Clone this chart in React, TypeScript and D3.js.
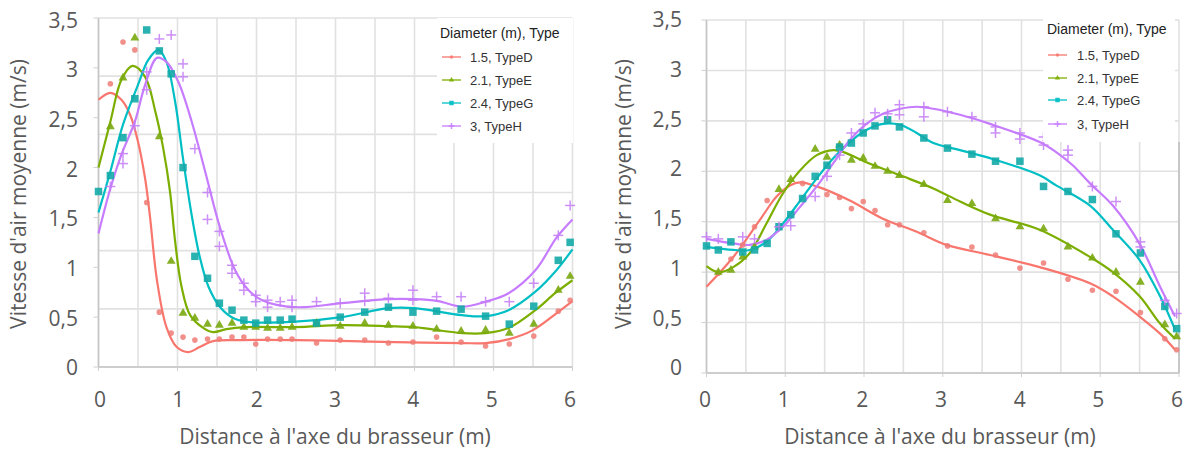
import React from "react";
import * as d3 from "d3";

// ---------- data ----------
const measuredX = [0, 0.15, 0.31, 0.46, 0.61, 0.77, 0.92, 1.07, 1.22, 1.38, 1.53, 1.69, 1.84, 1.99, 2.14, 2.30, 2.45, 2.76, 3.06, 3.37, 3.67, 3.98, 4.28, 4.59, 4.90, 5.20, 5.51, 5.82, 5.97];

// Left panel measured points
const leftD = [null, 2.84, 3.26, 3.18, 1.65, 0.55, 0.34, 0.30, 0.27, 0.28, 0.28, 0.30, 0.30, 0.23, 0.28, 0.28, 0.28, 0.24, 0.27, 0.27, 0.24, 0.25, 0.30, 0.25, 0.21, 0.23, 0.31, 0.56, 0.67];
const leftE = [null, 2.41, 2.90, 3.30, null, 2.31, 1.06, 0.54, 0.49, 0.43, 0.42, 0.44, 0.40, 0.40, 0.39, 0.39, 0.40, 0.44, 0.41, 0.44, 0.42, 0.41, 0.38, 0.36, 0.37, 0.34, 0.43, 0.77, 0.91];
const leftG = [1.76, 1.92, 2.30, 2.69, 3.38, 3.17, 2.94, 2.00, 1.11, 0.89, 0.64, 0.57, 0.47, 0.44, 0.47, 0.47, 0.48, 0.44, 0.50, 0.55, 0.60, 0.55, 0.56, 0.58, 0.51, 0.43, 0.61, 1.07, 1.25];
const leftH = [null, 1.81, 2.14, 2.42, 2.96, 3.29, 3.33, 3.04, 2.19, 1.75, 1.36, 1.02, 0.84, 0.72, 0.67, 0.655, 0.67, 0.655, 0.64, 0.74, 0.69, 0.77, 0.705, 0.705, 0.655, 0.655, 0.84, 1.32, 1.62];
const leftH2 = [null, null, 2.04, null, 2.78, null, null, 2.91, null, 1.48, 1.21, 0.94, 0.77, 0.655, 0.60, null, 0.60, null, null, 0.66, null, 0.67, null, null, null, null, null, null, null];

// Left panel fitted curves [x, v]
const leftFitD = [[0, 2.68], [0.15, 2.75], [0.29, 2.68], [0.40, 2.53], [0.50, 2.26], [0.59, 1.89], [0.65, 1.52], [0.74, 0.87], [0.86, 0.40], [0.99, 0.20], [1.14, 0.15], [1.28, 0.20], [1.45, 0.26], [1.8, 0.27], [2.5, 0.27], [3.2, 0.26], [3.75, 0.25], [4.6, 0.24], [4.9, 0.24], [5.2, 0.28], [5.5, 0.37], [5.8, 0.54], [6.0, 0.66]];
const leftFitE = [[0, 2.0], [0.15, 2.46], [0.29, 2.88], [0.43, 3.02], [0.59, 2.91], [0.72, 2.56], [0.82, 2.19], [0.905, 1.76], [0.97, 1.26], [1.05, 0.81], [1.16, 0.52], [1.33, 0.39], [1.45, 0.35], [1.62, 0.38], [1.85, 0.40], [2.5, 0.40], [3.08, 0.42], [3.67, 0.41], [4.0, 0.40], [4.6, 0.34], [4.9, 0.34], [5.19, 0.39], [5.53, 0.57], [5.78, 0.74], [6.0, 0.87]];
const leftFitG = [[0, 1.55], [0.15, 1.96], [0.31, 2.43], [0.50, 2.83], [0.63, 3.08], [0.76, 3.18], [0.86, 3.06], [0.97, 2.66], [1.07, 2.09], [1.18, 1.52], [1.28, 1.11], [1.39, 0.81], [1.54, 0.60], [1.71, 0.49], [1.92, 0.45], [2.49, 0.455], [3.08, 0.50], [3.67, 0.59], [4.0, 0.59], [4.6, 0.52], [4.9, 0.51], [5.19, 0.57], [5.53, 0.755], [5.78, 0.955], [6.0, 1.18]];
const leftFitH = [[0, 1.34], [0.15, 1.79], [0.29, 2.13], [0.46, 2.46], [0.59, 2.83], [0.74, 3.10], [0.86, 3.06], [1.01, 2.86], [1.18, 2.46], [1.35, 1.96], [1.53, 1.42], [1.73, 0.97], [1.90, 0.77], [2.07, 0.67], [2.49, 0.60], [3.08, 0.64], [3.67, 0.68], [4.0, 0.68], [4.3, 0.66], [4.6, 0.605], [4.9, 0.655], [5.19, 0.74], [5.53, 0.97], [5.8, 1.30], [6.0, 1.48]];

// Right panel measured points
const rightD = [null, 0.99, 1.13, 1.27, 1.45, 1.71, null, null, 1.88, null, 1.77, 1.74, 1.63, 1.70, 1.61, 1.47, 1.47, 1.39, 1.26, 1.25, 1.17, 1.04, 1.09, 0.93, 0.82, 0.81, 0.60, 0.34, 0.23];
const rightE = [null, 1.00, 1.02, 1.15, 1.25, null, 1.82, 1.92, null, 2.22, 2.14, 2.26, 2.11, 2.13, 2.05, 2.00, 1.96, 1.87, 1.71, 1.68, 1.53, 1.45, 1.43, 1.25, 1.14, 1.00, 0.90, 0.48, 0.36];
const rightG = [1.26, 1.22, 1.30, 1.20, 1.22, 1.285, 1.45, 1.57, 1.73, 1.95, 2.06, 2.24, 2.28, 2.38, 2.45, 2.51, 2.44, 2.33, 2.23, 2.17, 2.10, 2.10, 1.85, 1.80, 1.72, 1.38, 1.19, 0.66, 0.44];
const rightH = [1.35, 1.33, null, 1.35, 1.33, null, 1.45, 1.46, null, 1.75, 1.95, 2.16, 2.38, 2.47, 2.58, 2.57, 2.66, 2.64, 2.59, 2.54, 2.44, 2.38, 2.34, 2.21, 1.85, 1.70, 1.30, 0.72, 0.59];
const rightH2 = [null, null, null, null, null, null, null, null, null, null, null, null, null, null, null, null, 2.56, 2.54, null, null, 2.38, 2.32, 2.26, 2.16, null, null, 1.25, null, null];

// Right panel fitted curves
const rightFitD = [[0, 0.855], [0.34, 1.15], [0.68, 1.52], [0.89, 1.75], [1.06, 1.86], [1.19, 1.89], [1.40, 1.85], [1.82, 1.71], [2.24, 1.53], [2.67, 1.40], [3.05, 1.27], [3.6, 1.17], [4.23, 1.05], [4.87, 0.89], [5.16, 0.76], [5.5, 0.56], [5.76, 0.39], [5.95, 0.23]];
const rightFitE = [[0, 1.06], [0.15, 1.0], [0.34, 1.05], [0.55, 1.19], [0.76, 1.48], [0.97, 1.78], [1.19, 2.01], [1.40, 2.16], [1.61, 2.21], [1.74, 2.19], [2.03, 2.09], [2.46, 1.96], [2.88, 1.83], [3.22, 1.70], [3.6, 1.57], [4.23, 1.42], [4.87, 1.15], [5.16, 1.0], [5.5, 0.76], [5.76, 0.49], [5.95, 0.34]];
const rightFitG = [[0, 1.25], [0.34, 1.22], [0.55, 1.22], [0.76, 1.30], [0.97, 1.48], [1.19, 1.71], [1.40, 1.93], [1.61, 2.13], [1.82, 2.29], [2.03, 2.41], [2.24, 2.47], [2.46, 2.46], [2.67, 2.38], [2.88, 2.28], [3.22, 2.21], [3.6, 2.13], [4.23, 1.96], [4.44, 1.86], [4.87, 1.66], [5.16, 1.42], [5.5, 1.12], [5.76, 0.76], [5.95, 0.43]];
const rightFitH = [[0, 1.33], [0.34, 1.285], [0.55, 1.27], [0.76, 1.32], [0.97, 1.45], [1.19, 1.65], [1.40, 1.85], [1.61, 2.08], [1.82, 2.31], [2.03, 2.47], [2.24, 2.57], [2.46, 2.62], [2.67, 2.64], [2.88, 2.62], [3.22, 2.56], [3.6, 2.47], [4.23, 2.29], [4.44, 2.19], [4.65, 2.06], [4.87, 1.88], [5.16, 1.66], [5.5, 1.28], [5.76, 0.855], [5.95, 0.56]];

const seriesNames = ["1.5, TypeD", "2.1, TypeE", "2.4, TypeG", "3, TypeH"];
const xTicks = [0, 1, 2, 3, 4, 5, 6];
const yTicks = [0, 0.5, 1, 1.5, 2, 2.5, 3, 3.5];
const legendTitle = "Diameter (m), Type";
const xTitle = "Distance à l'axe du brasseur (m)";
const yTitle = "Vitesse d'air moyenne (m/s)";

// ---------- styles ----------
const lineColors = ["#f8766d", "#7cae00", "#00bfc4", "#c77cff"];
const markColors = ["#ef7b76", "#79a80f", "#13aaa9", "#c47cf6"];
const shapes = ["circle", "triangle", "square", "plus"];
const fmt = (v: number) => String(v).replace(".", ",");

type Panel = {
  xr: [number, number];
  yr: [number, number];
  ylab: [number, number];
  xlab: [number, number];
  hgrid: number;
  pts: (number | null)[][];
  pts2: (number | null)[][];
  fits: number[][][];
  legend: { x0: number; x1: number; y0: number; y1: number; tx: number; ty: number; lx: number; items: number[]; textX: number };
  yLabelRight: number;
  yTitleX: number;
  xTitleX: number;
  rightBorder: boolean;
};

const panels: Panel[] = [
  {
    xr: [98.5, 572.5], yr: [367, 18], ylab: [368, 20.5], xlab: [100, 570], hgrid: 6,
    pts: [leftD, leftE, leftG, leftH], pts2: [[], [], [], leftH2],
    fits: [leftFitD, leftFitE, leftFitG, leftFitH],
    legend: { x0: 437, x1: 573, y0: 18, y1: 143, tx: 440, ty: 33, lx: 442, items: [57, 80, 103, 126], textX: 470 },
    yLabelRight: 78, yTitleX: 26, xTitleX: 335, rightBorder: false,
  },
  {
    xr: [706.5, 1179], yr: [373, 20], ylab: [368, 20], xlab: [705, 1177], hgrid: 7,
    pts: [rightD, rightE, rightG, rightH], pts2: [[], [], [], rightH2],
    fits: [rightFitD, rightFitE, rightFitG, rightFitH],
    legend: { x0: 1043, x1: 1175, y0: 18, y1: 142, tx: 1047, ty: 29, lx: 1048, items: [55, 78, 100, 124], textX: 1077 },
    yLabelRight: 682, yTitleX: 631, xTitleX: 940, rightBorder: true,
  },
];

function Marker({ shape, x, y, color, small }: { shape: string; x: number; y: number; color: string; small?: boolean }) {
  const k = small ? 0.6 : 1;
  if (shape === "circle") return <circle cx={x} cy={y} r={2.8 * k} fill={color} opacity={0.85} />;
  if (shape === "triangle") {
    const p = d3.symbol(d3.symbolTriangle, 34 * k * k)();
    return <path d={p || ""} transform={`translate(${x},${y})`} fill={color} opacity={0.9} />;
  }
  if (shape === "square") {
    const s = 7.5 * k;
    return <rect x={x - s / 2} y={y - s / 2} width={s} height={s} fill={color} opacity={0.9} />;
  }
  const h = 5 * k;
  return (
    <g stroke={color} strokeWidth={1.5} opacity={0.85}>
      <line x1={x - h} x2={x + h} y1={y} y2={y} />
      <line x1={x} x2={x} y1={y - h} y2={y + h} />
    </g>
  );
}

function PanelView({ p }: { p: Panel }) {
  const x = d3.scaleLinear().domain([0, 6]).range(p.xr);
  const y = d3.scaleLinear().domain([0, 3.5]).range(p.yr);
  const yl = d3.scaleLinear().domain([0, 3.5]).range(p.ylab);
  const xl = d3.scaleLinear().domain([0, 6]).range(p.xlab);
  const gridV = d3.range(0, 6.01, 0.5);
  const gridH = d3.range(p.hgrid + 1).map((i) => (i * 3.5) / p.hgrid);
  const line = d3
    .line<number[]>()
    .x((d) => x(d[0]))
    .y((d) => y(d[1]))
    .curve(d3.curveCatmullRom.alpha(0.5));
  const L = p.legend;
  const tickFont = { fontFamily: "'Open Sans', sans-serif", fontSize: 21, fill: "#595959" };
  return (
    <g>
      <rect x={p.xr[0]} y={p.yr[1]} width={p.xr[1] - p.xr[0]} height={p.yr[0] - p.yr[1]} fill="#ffffff" />
      {gridV.map((g) => (
        <line key={"v" + g} x1={x(g)} x2={x(g)} y1={p.yr[1]} y2={p.yr[0]} stroke="#e1e1e1" strokeWidth={1.6} />
      ))}
      {gridH.map((g) => (
        <line key={"h" + g} x1={p.xr[0]} x2={p.xr[1]} y1={y(g)} y2={y(g)} stroke="#e1e1e1" strokeWidth={1.6} />
      ))}
      <line x1={p.xr[0]} x2={p.xr[0]} y1={p.yr[1]} y2={p.yr[0]} stroke="#c4c4c4" strokeWidth={1.5} />
      <line x1={p.xr[0]} x2={p.xr[1]} y1={p.yr[0]} y2={p.yr[0]} stroke="#c4c4c4" strokeWidth={1.5} />
      {p.rightBorder && (
        <line x1={p.xr[1]} x2={p.xr[1]} y1={L.y1} y2={p.yr[0]} stroke="#bdbdbd" strokeWidth={1.5} />
      )}
      {yTicks.map((t) => (
        <line key={"yt" + t} x1={p.xr[0] - 5} x2={p.xr[0]} y1={y(t)} y2={y(t)} stroke="#d0d0d0" strokeWidth={1} />
      ))}
      {xTicks.map((t) => (
        <line key={"xt" + t} x1={x(t)} x2={x(t)} y1={p.yr[0]} y2={p.yr[0] + 4} stroke="#d0d0d0" strokeWidth={1} />
      ))}
      {/* fitted curves */}
      {p.fits.map((f, i) => (
        <path key={"f" + i} d={line(f) || ""} fill="none" stroke={lineColors[i]} strokeWidth={2.2} />
      ))}
      {/* measured points */}
      {p.pts.map((arr, i) =>
        arr.map((v, j) =>
          v == null ? null : <Marker key={`m${i}-${j}`} shape={shapes[i]} x={x(measuredX[j])} y={y(v)} color={markColors[i]} />
        )
      )}
      {p.pts2.map((arr, i) =>
        arr.map((v, j) =>
          v == null ? null : <Marker key={`n${i}-${j}`} shape={shapes[i]} x={x(measuredX[j])} y={y(v)} color={markColors[i]} />
        )
      )}
      {/* legend */}
      <rect x={L.x0} y={L.y0} width={L.x1 - L.x0} height={L.y1 - L.y0} fill="#ffffff" />
      <text x={L.tx} y={L.ty + 5} fontFamily="'Liberation Sans', Arial, sans-serif" fontSize={14} fill="#222">
        {legendTitle}
      </text>
      {seriesNames.map((s, i) => (
        <g key={"lg" + i}>
          <line x1={L.lx} x2={L.lx + 19} y1={L.items[i]} y2={L.items[i]} stroke={lineColors[i]} strokeWidth={1.3} />
          <Marker shape={shapes[i]} x={L.lx + 9.5} y={L.items[i]} color={lineColors[i]} small />
          <text x={L.textX} y={L.items[i] + 4.6} fontFamily="'Liberation Sans', Arial, sans-serif" fontSize={13} fill="#333">
            {s}
          </text>
        </g>
      ))}
      {/* axis labels */}
      {yTicks.map((t) => (
        <text key={"yl" + t} x={p.yLabelRight} y={yl(t)} dy="0.35em" textAnchor="end" {...tickFont}>
          {fmt(t)}
        </text>
      ))}
      {xTicks.map((t) => (
        <text key={"xl" + t} x={xl(t)} y={400} dy="0.35em" textAnchor="middle" {...tickFont}>
          {fmt(t)}
        </text>
      ))}
      <text x={p.xTitleX} y={437} dy="0.35em" textAnchor="middle" {...tickFont}>
        {xTitle}
      </text>
      <text
        transform={`translate(${p.yTitleX},194) rotate(-90)`}
        textAnchor="middle"
        {...tickFont}
      >
        {yTitle}
      </text>
    </g>
  );
}

export default function App() {
  return (
    <svg
      width={1184}
      height={453}
      viewBox="0 0 1184 453"
      style={{ position: "absolute", left: 0, top: 0, background: "#ffffff" }}
    >
      <rect width={1184} height={453} fill="#ffffff" />
      {panels.map((p, i) => (
        <PanelView key={i} p={p} />
      ))}
    </svg>
  );
}
